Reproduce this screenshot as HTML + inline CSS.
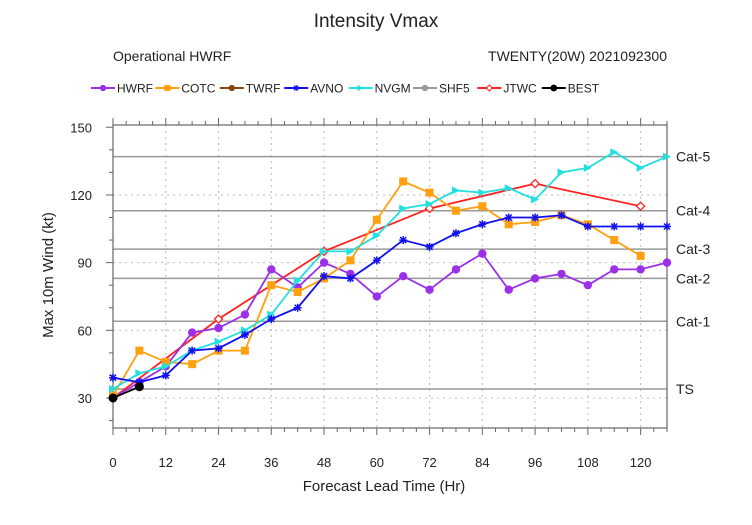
<!DOCTYPE html>
<html><head><meta charset="utf-8"><style>
body{margin:0;background:#fff;width:752px;height:520px;overflow:hidden}
svg text{font-family:"Liberation Sans",sans-serif;fill:#222}
</style></head><body>
<svg id="chart" width="752" height="520">
<text x="376" y="27" font-size="19" text-anchor="middle">Intensity Vmax</text>
<text x="113" y="61" font-size="14">Operational HWRF</text>
<text x="667" y="61" font-size="14" text-anchor="end">TWENTY(20W) 2021092300</text>
<g id="legend"></g>
<g id="grid"></g>
<g id="plot"></g>
<text x="384" y="491" font-size="15" text-anchor="middle">Forecast Lead Time (Hr)</text>
<text transform="translate(53,275) rotate(-90)" font-size="15" text-anchor="middle">Max 10m Wind (kt)</text>
</svg>
<script>
const hours=[0,6,12,18,24,30,36,42,48,54,60,66,72,78,84,90,96,102,108,114,120,126];
const hwrf=[30,37,44,59,61,67,87,79,90,85,75,84,78,87,94,78,83,85,80,87,87,90];
const cotc=[31,51,46,45,51,51,80,77,83,91,109,126,121,113,115,107,108,111,107,100,93];
const avno=[39,37,40,51,52,58,65,70,84,83,91,100,97,103,107,110,110,111,106,106,106,106];
const nvgm=[34,41,44,51,55,60,67,82,95,95,102,114,116,122,121,123,118,130,132,139,132,137];
const jtwcHours=[0,24,48,72,96,120];
const jtwc=[30,65,95,114,125,115];
const bestHours=[0,6];
const best=[30,35];
const xTicks=[0,12,24,36,48,60,72,84,96,108,120];
const yTicks=[30,60,90,120,150];
const catNames=["TS","Cat-1","Cat-2","Cat-3","Cat-4","Cat-5"];
const catValues=[34,64,83,96,113,137];
const X0=113,X1=667,Y0=428,Y1=125,XMIN=0,XMAX=126,YMIN=16.7,YMAX=151;
const sx=v=>X0+(v-XMIN)/(XMAX-XMIN)*(X1-X0);
const sy=v=>Y0-(v-YMIN)/(YMAX-YMIN)*(Y0-Y1);
const NS="http://www.w3.org/2000/svg";
function mk(t,a,p){const e=document.createElementNS(NS,t);for(const k in a)e.setAttribute(k,a[k]);p.appendChild(e);return e;}
const grid=document.getElementById('grid'),plot=document.getElementById('plot'),leg=document.getElementById('legend');
for(let h=12;h<=120;h+=12){const l=mk('line',{x1:sx(h),x2:sx(h),y1:Y1,y2:Y0,stroke:'#bbb','stroke-dasharray':'2,4','stroke-width':1},grid);
}
yTicks.forEach(v=>{if(v<150){const l=mk('line',{x1:X0,x2:X1,y1:sy(v),y2:sy(v),stroke:'#bbb','stroke-dasharray':'2,4','stroke-width':1},grid);
}});
catValues.forEach((v,i)=>{const l=mk('line',{x1:X0,x2:X1,y1:sy(v),y2:sy(v),stroke:'#999','stroke-width':1.5},grid);

const t=mk('text',{x:676,y:sy(v)+5,'font-size':14},grid);t.textContent=catNames[i];
});
const fr=mk('rect',{x:X0,y:Y1,width:X1-X0,height:Y0-Y1,fill:'none',stroke:'#666','stroke-width':1.2},grid);

for(let h=0;h<=126;h+=3){const maj=h%12===0;const L=maj?7:4;
mk('line',{x1:sx(h),x2:sx(h),y1:Y0,y2:Y0+L,stroke:'#666'},grid);
mk('line',{x1:sx(h),x2:sx(h),y1:Y1,y2:Y1-L,stroke:'#666'},grid);}
xTicks.forEach(h=>{const t=mk('text',{x:sx(h),y:Y0+39,'font-size':13,'text-anchor':'middle'},grid);t.textContent=h;
});
for(let v=20;v<=150;v+=10){const maj=v%30===0;const L=maj?7:4;mk('line',{x1:X0-L,x2:X0,y1:sy(v),y2:sy(v),stroke:'#666'},grid);}
yTicks.forEach(v=>{const t=mk('text',{x:X0-21,y:sy(v)+5,'font-size':13,'text-anchor':'end'},grid);t.textContent=v;
});
function marker(shape,x,y,c,g){
 if(shape==='circle')mk('circle',{cx:x,cy:y,r:4.2,fill:c},g);
 else if(shape==='square')mk('rect',{x:x-4,y:y-4,width:8,height:8,fill:c},g);
 else if(shape==='star'){mk('path',{d:`M${x-4} ${y}H${x+4}M${x-3} ${y-3}L${x+3} ${y+3}M${x-3} ${y+3}L${x+3} ${y-3}M${x} ${y-4}V${y+4}`,stroke:c,'stroke-width':1.5},g);}
 else if(shape==='tri')mk('path',{d:`M${x-4} ${y-4}L${x+4} ${y}L${x-4} ${y+4}Z`,fill:c},g);
 else if(shape==='diamond')mk('path',{d:`M${x} ${y-4}L${x+4} ${y}L${x} ${y+4}L${x-4} ${y}Z`,fill:'#fff',stroke:c,'stroke-width':1.3},g);
 else if(shape==='best')mk('circle',{cx:x,cy:y,r:4.5,fill:c},g);
}
function series(name,xs,ys,c,shape){const g=mk('g',{},plot);

const pts=ys.map((v,i)=>sx(xs[i])+','+sy(v)).join(' ');
mk('polyline',{points:pts,fill:'none',stroke:c,'stroke-width':1.8},g);
ys.forEach((v,i)=>marker(shape,sx(xs[i]),sy(v),c,g));}
series('jtwc',jtwcHours,jtwc,'#ff2020','diamond');
series('hwrf',hours,hwrf,'#9b30e8','circle');
series('cotc',hours.slice(0,cotc.length),cotc,'#ffa010','square');
series('nvgm',hours,nvgm,'#20e0e0','tri');
series('avno',hours,avno,'#1010f0','star');
series('best',bestHours,best,'#000','best');
const legNames=['HWRF','COTC','TWRF','AVNO','NVGM','SHF5','JTWC','BEST'];
const legColors=['#9b30e8','#ffa010','#8b4513','#1010f0','#20e0e0','#999','#ff2020','#000'];
const legShapes=['circle','square','circle','star','tri','circle','diamond','best'];
legNames.forEach((n,i)=>{const g=mk('g',{},leg);
const x=91+i*64.4,y=88;mk('line',{x1:x,x2:x+24,y1:y,y2:y,stroke:legColors[i],'stroke-width':2},g);
const s=legShapes[i];const gm=mk('g',{transform:`translate(${x+12},${y}) scale(0.75) translate(${-(x+12)},${-y})`},g);
marker(s,x+12,y,legColors[i],gm);
const t=mk('text',{x:x+26,y:y+4.5,'font-size':12},g);t.textContent=n;});
</script>
</body></html>
